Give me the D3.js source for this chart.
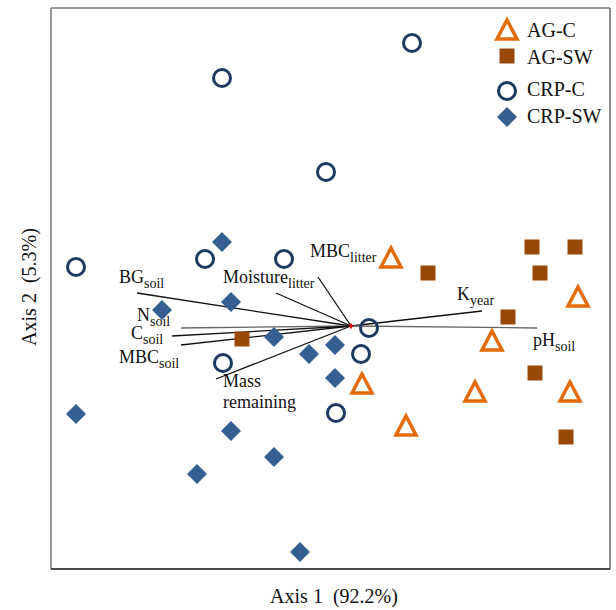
<!DOCTYPE html>
<html><head><meta charset="utf-8">
<script src="https://cdn.jsdelivr.net/npm/d3@7"></script>
<style>body{margin:0;background:#fff}svg{display:block}text{font-family:"Liberation Serif","Times New Roman",serif;fill:#111}</style>
</head><body><svg id="c" width="616" height="610"></svg>
<script>
// Ordination scores (arbitrary units)
const agC = [[0.40,0.69],[2.27,0.30],[1.41,-0.14],[0.11,-0.57],[1.24,-0.65],[2.19,-0.65],[0.55,-0.99]];
const agSW = [[1.81,0.79],[2.24,0.79],[0.77,0.53],[1.89,0.53],[1.57,0.09],[1.84,-0.47],[2.15,-1.11],[-1.09,-0.13]];
const crpC = [[-1.29,2.48],[0.61,2.83],[-0.25,1.54],[-2.75,0.59],[-1.46,0.67],[-0.67,0.67],[-1.28,-0.37],[0.18,-0.02],[0.10,-0.28],[-0.15,-0.87]];
const crpSW = [[-1.29,0.84],[-1.20,0.24],[-1.89,0.16],[-0.77,-0.11],[-0.42,-0.28],[-0.16,-0.19],[-0.16,-0.52],[-2.75,-0.88],[-1.20,-1.05],[-0.77,-1.31],[-1.54,-1.48],[-0.51,-2.26]];
// Biplot vectors: name, subscript, end point
const vecNames = ["BG","N","C","MBC","Mass remaining","Moisture","MBC","K","pH"];
const vecSubs = ["soil","soil","soil","soil","","litter","litter","year","soil"];
const vecEnds = [[-2.14,0.33],[-1.70,-0.02],[-1.79,-0.10],[-1.70,-0.19],[-1.35,-0.53],[-0.75,0.33],[-0.33,0.49],[1.31,0.15],[1.86,-0.02]];
const legendLabels = ["AG-C","AG-SW","CRP-C","CRP-SW"];
const xTitle = "Axis 1\u00a0\u00a0(92.2%)";
const yTitle = "Axis 2\u00a0\u00a0(5.3%)";

const svg = d3.select("#c");
const L=51,R=610,T=8,B=569;
const x = d3.scaleLinear().domain([-3.00,2.59]).range([L,R]);
const y = d3.scaleLinear().domain([-2.43,3.18]).range([B,T]);

// frame
svg.append("line").attr("x1",L).attr("x2",R).attr("y1",T).attr("y2",T).attr("stroke","#777").attr("stroke-width",1.5);
svg.append("line").attr("x1",L).attr("x2",L).attr("y1",T).attr("y2",B).attr("stroke","#777").attr("stroke-width",1.5);
svg.append("line").attr("x1",R).attr("x2",R).attr("y1",T).attr("y2",B).attr("stroke","#666").attr("stroke-width",1.5);
svg.append("line").attr("x1",L).attr("x2",R).attr("y1",B).attr("y2",B).attr("stroke","#111").attr("stroke-width",1.5);

// vectors
const ox=x(0), oy=y(0);
const vecColors = ["#111","#666","#111","#111","#111","#111","#111","#111","#666"];
const labOff = [[-18,-10],[-44,-7],[-41,3],[-62,18],[7,8],[-53,-10],[-8,-20],[-25,-11],[-4,18]];
const gv = svg.append("g");
vecEnds.forEach((e,i)=>{
  gv.append("line").attr("x1",ox).attr("y1",oy).attr("x2",x(e[0])).attr("y2",y(e[1]))
    .attr("stroke",vecColors[i]).attr("stroke-width",1.3);
});
// origin marker
svg.append("path").attr("d",d3.symbol(d3.symbolCross,14)()).attr("transform",`translate(${ox},${oy})`).attr("fill","#e00000");

vecEnds.forEach((e,i)=>{
  const tx = x(e[0])+labOff[i][0], ty = y(e[1])+labOff[i][1];
  const t = svg.append("text").attr("x",tx).attr("y",ty).attr("font-size",18);
  if (vecNames[i]==="Mass remaining"){
    t.append("tspan").attr("x",tx).attr("dy",0).text("Mass");
    t.append("tspan").attr("x",tx).attr("dy",21).text("remaining");
  } else {
    t.append("tspan").text(vecNames[i]);
    t.append("tspan").attr("dy",5).attr("font-size",14).text(vecSubs[i]);
  }
});

// markers
const cTri="#E36C09", cSq="#984807", cCir="#1F3A60", cDia="#365F91";
const triPath = "M0,-9.5L10,9.5L-10,9.5Z";
const sq = d3.symbol(d3.symbolSquare, 225);
const dia = d3.symbol(d3.symbolDiamond2, 255);
function drawTri(g,px,py){ g.append("path").attr("d",triPath).attr("transform",`translate(${px},${py+0.5})`).attr("fill","none").attr("stroke",cTri).attr("stroke-width",3.5).attr("stroke-linejoin","miter"); }
function drawSq(g,px,py){ g.append("path").attr("d",sq()).attr("transform",`translate(${px},${py})`).attr("fill",cSq); }
function drawCir(g,px,py){ g.append("circle").attr("cx",px).attr("cy",py).attr("r",8.5).attr("fill","none").attr("stroke",cCir).attr("stroke-width",3); }
function drawDia(g,px,py){ g.append("path").attr("d",dia()).attr("transform",`translate(${px},${py})`).attr("fill",cDia); }
const gp = svg.append("g");
crpSW.forEach(d=>drawDia(gp,x(d[0]),y(d[1])));
crpC.forEach(d=>drawCir(gp,x(d[0]),y(d[1])));
agSW.forEach(d=>drawSq(gp,x(d[0]),y(d[1])));
agC.forEach(d=>drawTri(gp,x(d[0]),y(d[1])));

// legend
const lg = svg.append("g");
const legY=[29,56,91,117], legTY=[37,64,96,123];
const drawers=[drawTri,drawSq,drawCir,drawDia];
legendLabels.forEach((s,i)=>{
  drawers[i](lg,507,legY[i]);
  lg.append("text").attr("x",527).attr("y",legTY[i]).attr("font-size",20).text(s);
});

// axis titles
svg.append("text").attr("x",334).attr("y",603).attr("text-anchor","middle").attr("font-size",20).text(xTitle);
svg.append("text").attr("transform","translate(36,287) rotate(-90)").attr("text-anchor","middle").attr("font-size",20).text(yTitle);
</script></body></html>
